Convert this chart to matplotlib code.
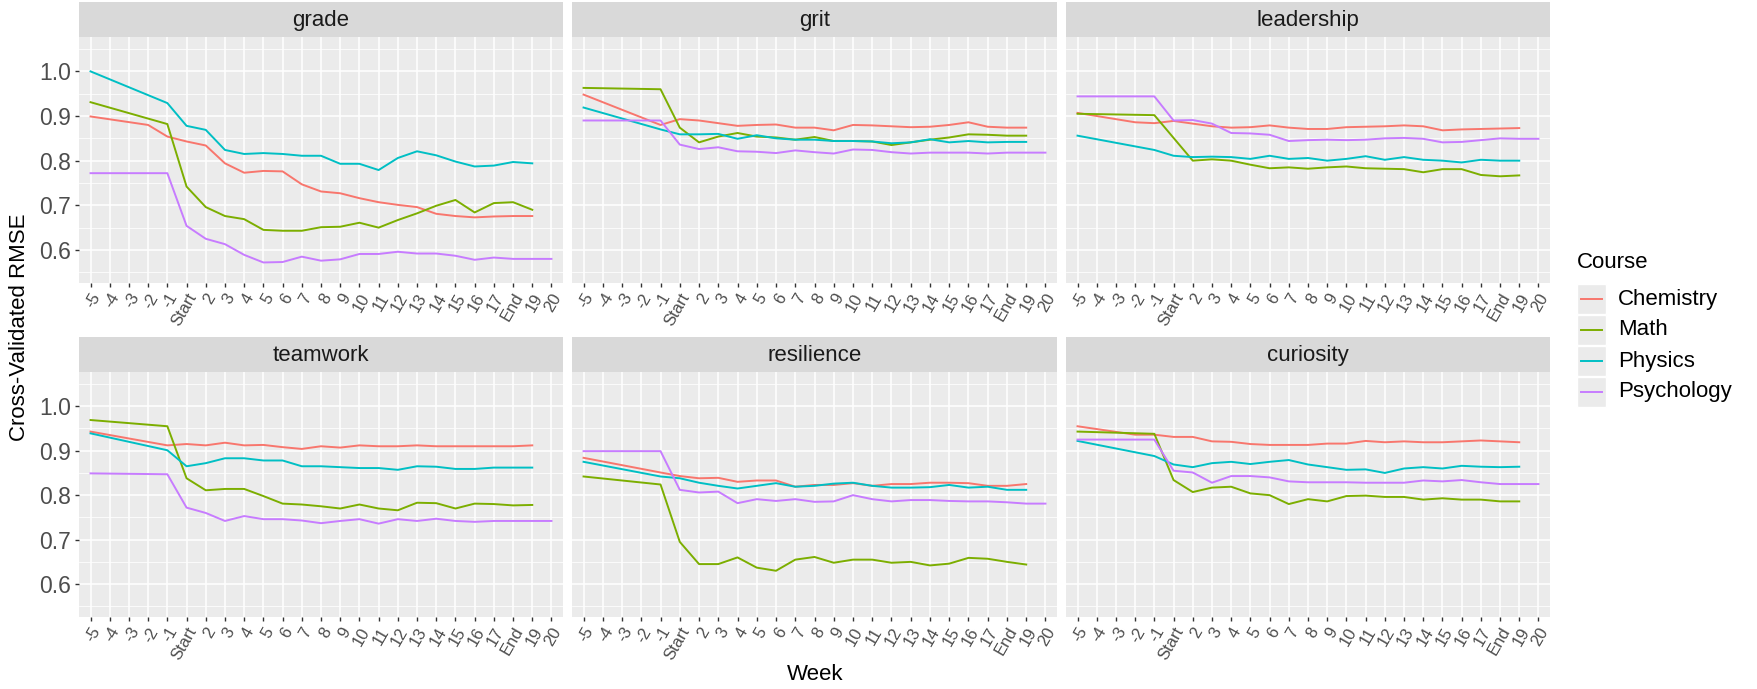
import numpy as np
import matplotlib
matplotlib.use('Agg')
import matplotlib.pyplot as plt
from matplotlib.patches import Rectangle
from matplotlib.lines import Line2D

plt.rcParams['font.family'] = ['Liberation Sans', 'DejaVu Sans']

N = np.nan

weeks = ['-5', '-4', '-3', '-2', '-1', 'Start', '2', '3', '4', '5', '6', '7', '8', '9',
         '10', '11', '12', '13', '14', '15', '16', '17', 'End', '19', '20']
courses = ['Chemistry', 'Math', 'Physics', 'Psychology']
traits = ['grade', 'grit', 'leadership', 'teamwork', 'resilience', 'curiosity']

grade = {
    'Chemistry': [0.899, N, N, 0.880, 0.854, 0.843, 0.834, 0.794, 0.773, 0.777, 0.776, 0.747, 0.731,
                  0.727, 0.716, 0.707, 0.701, 0.696, 0.681, 0.676, 0.673, 0.675, 0.676, 0.676, N],
    'Math': [0.931, N, N, N, 0.882, 0.742, 0.696, 0.676, 0.669, 0.645, 0.643, 0.643, 0.651,
             0.652, 0.661, 0.650, 0.667, 0.682, 0.699, 0.712, 0.684, 0.705, 0.707, 0.690, N],
    'Physics': [1.000, N, N, N, 0.929, 0.878, 0.869, 0.824, 0.815, 0.817, 0.815, 0.811, 0.811,
                0.793, 0.793, 0.779, 0.806, 0.821, 0.812, 0.798, 0.787, 0.789, 0.797, 0.794, N],
    'Psychology': [0.772, N, N, N, 0.772, 0.654, 0.625, 0.613, 0.589, 0.572, 0.573, 0.585, 0.576,
                   0.579, 0.591, 0.591, 0.596, 0.592, 0.592, 0.587, 0.578, 0.583, 0.580, 0.580, 0.580],
}
grit = {
    'Chemistry': [0.948, N, N, N, 0.880, 0.893, 0.890, 0.884, 0.878, 0.880, 0.881, 0.874, 0.874,
                  0.868, 0.880, 0.879, 0.877, 0.875, 0.876, 0.880, 0.886, 0.876, 0.874, 0.874, N],
    'Math': [0.963, N, N, N, 0.960, 0.874, 0.841, 0.854, 0.862, 0.854, 0.852, 0.847, 0.853,
             0.844, 0.844, 0.843, 0.835, 0.841, 0.847, 0.852, 0.859, 0.858, 0.856, 0.856, N],
    'Physics': [0.919, N, N, N, 0.870, 0.859, 0.859, 0.860, 0.849, 0.857, 0.850, 0.847, 0.847,
                0.844, 0.844, 0.843, 0.839, 0.841, 0.848, 0.841, 0.844, 0.841, 0.842, 0.842, N],
    'Psychology': [0.890, N, N, N, 0.890, 0.836, 0.826, 0.830, 0.821, 0.820, 0.817, 0.823, 0.819,
                   0.816, 0.825, 0.824, 0.819, 0.816, 0.818, 0.818, 0.818, 0.816, 0.818, 0.818, 0.818],
}
leadership = {
    'Chemistry': [0.907, N, N, 0.886, 0.884, 0.889, 0.883, 0.877, 0.874, 0.875, 0.879, 0.874, 0.871,
                  0.871, 0.875, 0.876, 0.877, 0.879, 0.877, 0.868, 0.870, 0.871, 0.872, 0.873, N],
    'Math': [0.905, N, N, N, 0.902, 0.851, 0.800, 0.803, 0.800, 0.791, 0.783, 0.785, 0.782,
             0.785, 0.787, 0.783, 0.782, 0.781, 0.774, 0.781, 0.781, 0.768, 0.765, 0.767, N],
    'Physics': [0.856, N, N, N, 0.824, 0.811, 0.808, 0.809, 0.808, 0.804, 0.811, 0.804, 0.806,
                0.800, 0.804, 0.810, 0.802, 0.808, 0.802, 0.800, 0.796, 0.802, 0.800, 0.800, N],
    'Psychology': [0.944, N, N, N, 0.944, 0.890, 0.891, 0.883, 0.862, 0.861, 0.858, 0.844, 0.846,
                   0.847, 0.846, 0.847, 0.850, 0.851, 0.849, 0.841, 0.842, 0.846, 0.850, 0.849, 0.849],
}
teamwork = {
    'Chemistry': [0.943, N, N, N, 0.912, 0.915, 0.912, 0.918, 0.912, 0.913, 0.908, 0.904, 0.910,
                  0.907, 0.912, 0.910, 0.910, 0.912, 0.910, 0.910, 0.910, 0.910, 0.910, 0.912, N],
    'Math': [0.969, N, N, N, 0.955, 0.838, 0.811, 0.814, 0.814, 0.798, 0.781, 0.779, 0.775,
             0.770, 0.779, 0.770, 0.766, 0.783, 0.782, 0.770, 0.781, 0.780, 0.777, 0.778, N],
    'Physics': [0.939, N, N, N, 0.901, 0.865, 0.872, 0.883, 0.883, 0.878, 0.878, 0.865, 0.865,
                0.863, 0.861, 0.861, 0.857, 0.865, 0.864, 0.859, 0.859, 0.862, 0.862, 0.862, N],
    'Psychology': [0.849, N, N, N, 0.847, 0.772, 0.760, 0.742, 0.753, 0.746, 0.746, 0.743, 0.737,
                   0.742, 0.746, 0.736, 0.746, 0.742, 0.747, 0.742, 0.740, 0.742, 0.742, 0.742, 0.742],
}
resilience = {
    'Chemistry': [0.884, N, N, N, 0.851, 0.843, 0.838, 0.839, 0.830, 0.833, 0.833, 0.819, 0.823,
                  0.823, 0.827, 0.821, 0.825, 0.825, 0.828, 0.828, 0.827, 0.821, 0.821, 0.825, N],
    'Math': [0.842, N, N, N, 0.824, 0.695, 0.645, 0.645, 0.660, 0.637, 0.630, 0.655, 0.661,
             0.648, 0.655, 0.655, 0.648, 0.650, 0.642, 0.646, 0.659, 0.657, 0.650, 0.644, N],
    'Physics': [0.875, N, N, N, 0.842, 0.838, 0.828, 0.821, 0.815, 0.821, 0.827, 0.819, 0.821,
                0.826, 0.828, 0.821, 0.817, 0.817, 0.818, 0.823, 0.817, 0.819, 0.812, 0.812, N],
    'Psychology': [0.899, N, N, N, 0.899, 0.812, 0.806, 0.808, 0.782, 0.791, 0.787, 0.791, 0.785,
                   0.786, 0.800, 0.791, 0.786, 0.789, 0.789, 0.787, 0.786, 0.786, 0.784, 0.781, 0.781],
}
curiosity = {
    'Chemistry': [0.955, N, N, 0.936, 0.936, 0.931, 0.931, 0.921, 0.920, 0.915, 0.913, 0.913, 0.913,
                  0.916, 0.916, 0.922, 0.919, 0.921, 0.919, 0.919, 0.921, 0.923, 0.921, 0.919, N],
    'Math': [0.943, N, N, N, 0.938, 0.834, 0.807, 0.817, 0.819, 0.804, 0.800, 0.780, 0.791,
             0.786, 0.798, 0.799, 0.796, 0.796, 0.790, 0.793, 0.790, 0.790, 0.786, 0.786, N],
    'Physics': [0.922, N, N, N, 0.888, 0.869, 0.863, 0.872, 0.875, 0.870, 0.875, 0.879, 0.869,
                0.863, 0.857, 0.858, 0.850, 0.860, 0.863, 0.860, 0.866, 0.864, 0.863, 0.864, N],
    'Psychology': [0.925, N, N, N, 0.925, 0.855, 0.851, 0.828, 0.843, 0.843, 0.840, 0.831, 0.829,
                   0.829, 0.829, 0.828, 0.828, 0.828, 0.833, 0.831, 0.834, 0.829, 0.825, 0.825, 0.825],
}

colors = {'Chemistry': '#F8766D', 'Math': '#7CAE00', 'Physics': '#00BFC4', 'Psychology': '#C77CFF'}

W, H = 1757, 689
col_x = [(79, 563), (572, 1057), (1066, 1550)]
row_y = [(2, 37, 283), (337, 372, 617)]  # strip top, panel top, panel bottom


def fig_rect(x0, y0, x1, y1):
    return [x0 / W, 1 - y1 / H, (x1 - x0) / W, (y1 - y0) / H]


def main():
    fig = plt.figure(figsize=(W / 100, H / 100), dpi=100)
    data = [grade, grit, leadership, teamwork, resilience, curiosity]
    x = np.arange(len(weeks))

    for k, (trait, d) in enumerate(zip(traits, data)):
        r, c = divmod(k, 3)
        x0, x1 = col_x[c]
        st, pt, pb = row_y[r]

        # strip
        sax = fig.add_axes(fig_rect(x0, st, x1, pt))
        sax.set_facecolor('#D9D9D9')
        sax.set_xticks([])
        sax.set_yticks([])
        for s in sax.spines.values():
            s.set_visible(False)
        sax.text(0.5, 0.47, trait, ha='center', va='center', fontsize=16, color='#1A1A1A',
                 transform=sax.transAxes)

        ax = fig.add_axes(fig_rect(x0, pt, x1, pb))
        ax.set_facecolor('#EBEBEB')
        for s in ax.spines.values():
            s.set_visible(False)
        ax.set_xlim(-0.6, len(weeks) - 0.4)
        ax.set_ylim(0.526, 1.077)
        ax.set_yticks([0.6, 0.7, 0.8, 0.9, 1.0])
        ax.set_yticks([0.55, 0.65, 0.75, 0.85, 0.95, 1.05], minor=True)
        ax.set_xticks(x)
        ax.grid(which='major', color='white', lw=1.1)
        ax.grid(which='minor', axis='y', color='white', lw=0.55)
        ax.set_axisbelow(True)
        ax.tick_params(which='minor', length=0)
        ax.tick_params(which='major', length=3, width=1, color='#333333', pad=2.5)
        ax.set_xticklabels(weeks, rotation=60, ha='right', va='top', rotation_mode='anchor',
                           fontsize=12, color='#4D4D4D')
        if c == 0:
            ax.set_yticklabels(['0.6', '0.7', '0.8', '0.9', '1.0'], fontsize=16.5, color='#4D4D4D')
        else:
            ax.set_yticklabels([])
            ax.tick_params(axis='y', length=0)

        for course in courses:
            y = np.array(d[course], dtype=float)
            m = ~np.isnan(y)
            ax.plot(x[m], y[m], color=colors[course], lw=1.4)

    fig.text(20 / W, 1 - 327 / H, 'Cross-Validated RMSE', rotation=90, ha='center', va='center',
             fontsize=16)
    fig.text(815 / W, 1 - 674 / H, 'Week', ha='center', va='center', fontsize=16)

    # legend
    fig.text(1577 / W, 1 - 262 / H, 'Course', ha='left', va='center', fontsize=16)
    for i, course in enumerate(courses):
        yc = 299 + i * 31
        fig.add_artist(Rectangle((1577 / W, 1 - (yc + 15) / H), 29 / W, 30 / H,
                                 transform=fig.transFigure, facecolor='#EBEBEB',
                                 edgecolor='white', lw=1))
        fig.add_artist(Line2D([1581 / W, 1602 / W], [1 - yc / H, 1 - yc / H],
                              transform=fig.transFigure, color=colors[course], lw=1.4))
        fig.text(1618 / W, 1 - yc / H, course, ha='left', va='center', fontsize=16)

    fig.savefig('out.png', dpi=100)


if __name__ == '__main__':
    main()
